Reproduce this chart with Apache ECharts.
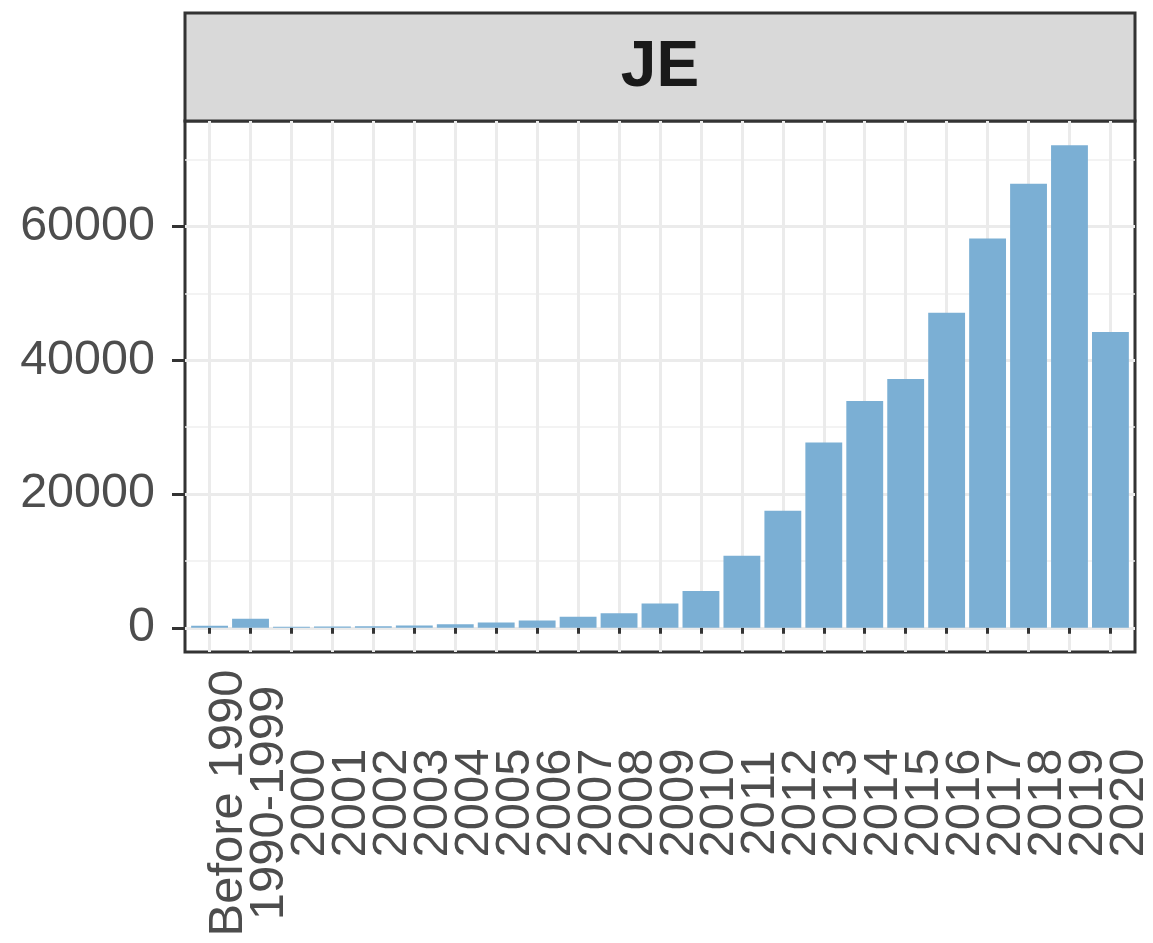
<!DOCTYPE html>
<html>
<head>
<meta charset="utf-8">
<script src="https://cdn.jsdelivr.net/npm/echarts@6/dist/echarts.min.js"></script>
<style>
  html, body { margin: 0; padding: 0; background: #ffffff; }
  #chart { width: 1153px; height: 943px; }
</style>
</head>
<body>
<div id="chart"></div>
<script>
// ---- data ----
const categories = ['Before 1990', '1990-1999', '2000', '2001', '2002', '2003', '2004', '2005',
  '2006', '2007', '2008', '2009', '2010', '2011', '2012', '2013', '2014', '2015', '2016',
  '2017', '2018', '2019', '2020'];
const counts = [300, 1350, 150, 200, 250, 350, 550, 800, 1100, 1650, 2200, 3650, 5500,
  10800, 17500, 27700, 33900, 37200, 47100, 58200, 66400, 72170, 44250];
const yTickValues = [0, 20000, 40000, 60000];
const yMinorValues = [10000, 30000, 50000, 70000];
const facetLabel = 'JE';

// ---- layout / style ----
const FONT = "'Liberation Sans', Arial, Helvetica, sans-serif";
const PANEL_LEFT = 185, PANEL_W = 950, PANEL_TOP = 121, PANEL_H = 531;
const STRIP_TOP = 13, STRIP_H = PANEL_TOP - STRIP_TOP;
const LABEL_SHIFT_PX = 19; // rotated labels sit to the right of their tick (ggplot vjust)

// ggplot-like expansions (continuous 5%, discrete 0.6)
const maxVal = Math.max(...counts);
const yExp = 0.05 * maxVal;
const yMin = -yExp, yMax = maxVal + yExp;
const xMin = 0.4, xMax = categories.length + 0.6;
const unitPx = PANEL_W / (xMax - xMin);
const xIdx = categories.map((c, i) => i + 1);
const barData = counts.map((v, i) => [i + 1, v]);
// label grid: one band per category, aligned with the bar centres
const LABEL_LEFT = PANEL_LEFT + (0.5 - xMin) * unitPx + LABEL_SHIFT_PX;
const LABEL_W = categories.length * unitPx;

const chart = echarts.init(document.getElementById('chart'), null, { renderer: 'canvas' });
chart.setOption({
  backgroundColor: '#ffffff',
  animation: false,
  grid: [
    { left: PANEL_LEFT, width: PANEL_W, top: PANEL_TOP, height: PANEL_H,
      containLabel: false, outerBoundsMode: 'none',
      show: true, backgroundColor: '#ffffff', borderColor: '#333333', borderWidth: 3 },
    { left: PANEL_LEFT, width: PANEL_W, top: STRIP_TOP, height: STRIP_H,
      containLabel: false, outerBoundsMode: 'none',
      show: true, backgroundColor: '#D9D9D9', borderColor: '#333333', borderWidth: 3 },
    { left: LABEL_LEFT, width: LABEL_W, top: PANEL_TOP, height: PANEL_H,
      containLabel: false, outerBoundsMode: 'none', show: false }
  ],
  xAxis: [
    {
      type: 'value', gridIndex: 0, min: xMin, max: xMax,
      axisLine: { show: false },
      axisTick: { show: true, customValues: xIdx, length: 6, lineStyle: { color: '#333333', width: 3 } },
      splitLine: { show: true, lineStyle: { color: '#EBEBEB', width: 3 } },
      axisLabel: { show: false }
    },
    { type: 'category', gridIndex: 1, data: [facetLabel], show: false },
    {
      type: 'category', gridIndex: 2, data: categories, boundaryGap: true,
      axisLine: { show: false }, axisTick: { show: false }, splitLine: { show: false },
      axisLabel: {
        interval: 0, hideOverlap: false,
        rotate: 90, align: 'center', verticalAlign: 'middle',
        margin: 151,
        color: '#4D4D4D', fontSize: 49, fontFamily: FONT
      }
    }
  ],
  yAxis: [
    {
      type: 'value', gridIndex: 0, min: yMin, max: yMax,
      axisLine: { show: false },
      axisTick: { show: true, customValues: yTickValues, length: 13, lineStyle: { color: '#333333', width: 3 } },
      splitLine: { show: true, lineStyle: { color: '#EBEBEB', width: 3 } },
      axisLabel: {
        customValues: yTickValues, margin: 30,
        formatter: v => String(Math.round(v)),
        color: '#4D4D4D', fontSize: 48.5, fontFamily: FONT
      }
    },
    {
      type: 'value', gridIndex: 0, min: yMin, max: yMax,
      axisLine: { show: false },
      axisTick: { show: false, customValues: yMinorValues },
      axisLabel: { show: false, customValues: yMinorValues },
      splitLine: { show: true, lineStyle: { color: '#EFEFEF', width: 1.5 } }
    },
    { type: 'value', gridIndex: 1, show: false, min: 0, max: 1 },
    { type: 'value', gridIndex: 2, show: false, min: 0, max: 1 }
  ],
  graphic: [
    {
      type: 'text', z: 100,
      x: PANEL_LEFT + PANEL_W / 2, y: STRIP_TOP + STRIP_H / 2 + 1,
      style: { text: facetLabel, fill: '#1A1A1A', font: 'bold 64px ' + FONT,
               textAlign: 'center', textVerticalAlign: 'middle' }
    }
  ],
  series: [
    {
      type: 'bar', xAxisIndex: 0, yAxisIndex: 0,
      data: barData, barWidth: '90%',
      itemStyle: { color: '#7BAFD4' },
      z: 3
    }
  ]
});
</script>
</body>
</html>
